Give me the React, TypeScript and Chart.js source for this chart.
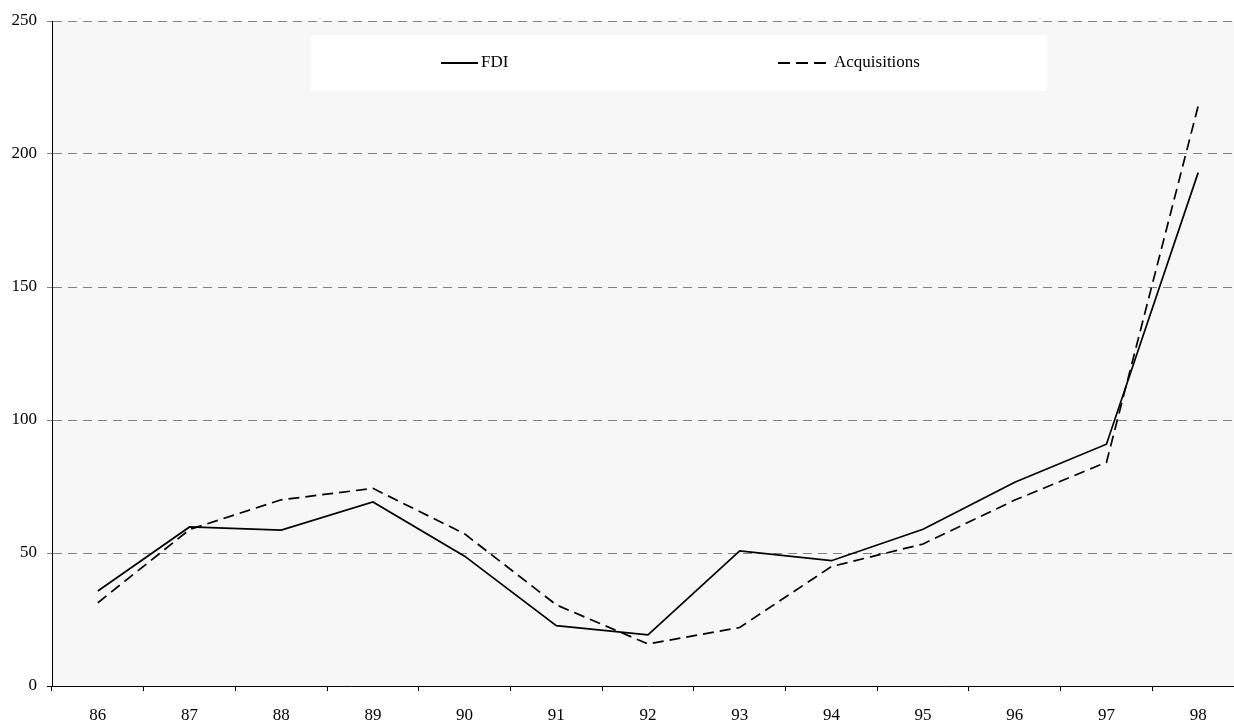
import React, { useEffect, useRef } from "react";
import { Chart, registerables } from "chart.js";

Chart.register(...registerables);

const years = ["86", "87", "88", "89", "90", "91", "92", "93", "94", "95", "96", "97", "98"];
const fdi = [35.7, 59.8, 58.6, 69.2, 48.8, 22.7, 19.2, 50.8, 47.1, 58.9, 76.6, 90.9, 193];
const acquisitions = [31.3, 58.8, 70, 74.3, 57.2, 30.5, 15.8, 22, 44.9, 53.4, 69.9, 84.1, 218];
const yTicks = [0, 50, 100, 150, 200, 250];

const FONT = "'Liberation Serif', 'Times New Roman', serif";

const bgPlugin = {
  id: "plotBg",
  beforeDraw(chart: any) {
    const { ctx, chartArea } = chart;
    ctx.save();
    ctx.fillStyle = "#f7f7f7";
    ctx.fillRect(chartArea.left, chartArea.top, chartArea.right - chartArea.left, chartArea.bottom - chartArea.top);
    ctx.restore();
  },
};

const legendPlugin = {
  id: "boxLegend",
  afterDraw(chart: any) {
    const { ctx } = chart;
    const ds = chart.data.datasets;
    ctx.save();
    ctx.fillStyle = "#ffffff";
    ctx.fillRect(311, 35, 736, 56);
    const cy = 63;
    const items = [
      { x1: 441, x2: 478, tx: 481, dash: [] as number[] },
      { x1: 778, x2: 826, tx: 834, dash: [12, 6] },
    ];
    items.forEach((it, i) => {
      ctx.beginPath();
      ctx.setLineDash(it.dash);
      ctx.strokeStyle = "#000";
      ctx.lineWidth = 2;
      ctx.moveTo(it.x1, cy);
      ctx.lineTo(it.x2, cy);
      ctx.stroke();
      ctx.setLineDash([]);
      ctx.fillStyle = "#000";
      ctx.font = `17px ${FONT}`;
      ctx.textBaseline = "middle";
      ctx.textAlign = "left";
      ctx.fillText(ds[i].label, it.tx, cy);
    });
    ctx.restore();
  },
};

export default function App() {
  const ref = useRef<HTMLCanvasElement>(null);
  useEffect(() => {
    if (!ref.current) return;
    const chart = new Chart(ref.current, {
      type: "line",
      data: {
        labels: years,
        datasets: [
          {
            label: "FDI",
            data: fdi,
            borderColor: "#000",
            borderWidth: 1.7,
            pointRadius: 0,
            tension: 0,
            fill: false,
          },
          {
            label: "Acquisitions",
            data: acquisitions,
            borderColor: "#000",
            borderWidth: 1.7,
            borderDash: [11, 6],
            pointRadius: 0,
            tension: 0,
            fill: false,
          },
        ],
      },
      options: {
        responsive: false,
        animation: false,
        layout: { padding: { top: 21, left: 0, right: 0, bottom: 0 } },
        plugins: { legend: { display: false }, tooltip: { enabled: false } },
        scales: {
          x: {
            type: "category",
            offset: true,
            grid: {
              offset: true,
              drawOnChartArea: false,
              drawTicks: true,
              tickLength: 5,
              tickColor: "#000",
            },
            border: { display: true, color: "#000", width: 1 },
            ticks: {
              color: "#000",
              font: { family: FONT, size: 17 },
              padding: 14,
              maxRotation: 0,
              autoSkip: false,
            },
            afterFit(s: any) {
              s.height = 36;
            },
          },
          y: {
            min: 0,
            max: 250,
            afterBuildTicks(s: any) {
              s.ticks = yTicks.map((v) => ({ value: v }));
            },
            grid: {
              color: (c: any) => (c.tick && c.tick.value === 0 ? "rgba(0,0,0,0)" : "#808080"),
              lineWidth: 1,
              tickLength: 5,
              tickColor: (c: any) => (c.tick && c.tick.value === 0 ? "#000" : "#808080"),
            },
            border: { display: true, color: "#000", width: 1, dash: [9, 6] },
            ticks: {
              color: "#000",
              font: { family: FONT, size: 17 },
              padding: 10,
            },
            afterFit(s: any) {
              s.width = 52;
            },
          },
        },
      },
      plugins: [bgPlugin, legendPlugin],
    });
    return () => chart.destroy();
  }, []);
  return (
    <div
      style={{
        position: "fixed",
        left: 0,
        top: 0,
        width: 1234,
        height: 722,
        overflow: "hidden",
        background: "#fff",
      }}
    >
      <canvas ref={ref} width={1244} height={722} style={{ display: "block" }} />
    </div>
  );
}
